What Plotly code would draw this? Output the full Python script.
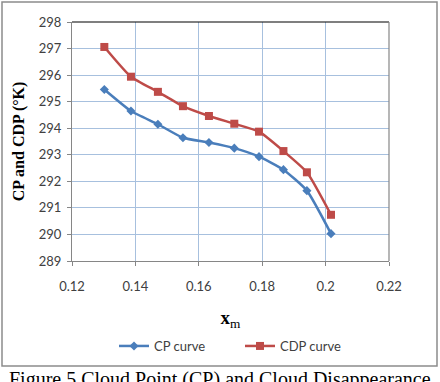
import plotly.graph_objects as go

x_m = [0.1302, 0.1386, 0.1471, 0.1550, 0.1632, 0.1712, 0.1790, 0.1867, 0.1941, 0.2017]
cp_curve = [295.46, 294.65, 294.15, 293.64, 293.46, 293.25, 292.93, 292.44, 291.65, 290.03]
cdp_curve = [297.06, 295.94, 295.37, 294.83, 294.46, 294.17, 293.87, 293.14, 292.34, 290.74]

x_ticks = [0.12, 0.14, 0.16, 0.18, 0.2, 0.22]
x_tick_text = ["0.12", "0.14", "0.16", "0.18", "0.2", "0.22"]
y_ticks = list(range(289, 299))

W, H = 440, 382
L, R, T, B = 72, 51, 22, 121
pw, ph = W - L - R, H - T - B

def px(xp):
    return (xp - L) / pw

def py(yp):
    return (H - B - yp) / ph

fig = go.Figure()
fig.add_trace(go.Scatter(
    x=x_m, y=cp_curve, name="CP curve", mode="lines+markers",
    line=dict(color="#4A7EBB", width=2.5, shape="spline", smoothing=0.5),
    marker=dict(symbol="diamond", size=7, color="#4A7EBB"),
))
fig.add_trace(go.Scatter(
    x=x_m, y=cdp_curve, name="CDP curve", mode="lines+markers",
    line=dict(color="#BE4B48", width=2.5, shape="spline", smoothing=0.5),
    marker=dict(symbol="square", size=8, color="#BE4B48"),
))

grid = "#A7C0DE"
tickfont = dict(family="Lato", size=13, color="#404040")
fig.update_xaxes(
    range=[0.12, 0.22], tickvals=x_ticks, ticktext=x_tick_text,
    showgrid=True, gridcolor=grid, gridwidth=1,
    showline=True, linecolor="#868686", linewidth=1,
    ticks="outside", ticklen=4, tickcolor="#868686", ticklabelstandoff=9,
    tickfont=tickfont, zeroline=False,
    title=dict(text="<b>x</b><sub>m</sub>", font=dict(family="Liberation Serif", size=19, color="black"), standoff=18),
)
fig.update_yaxes(
    range=[289, 298], tickvals=y_ticks,
    showgrid=True, gridcolor=grid, gridwidth=1,
    showline=True, linecolor="#868686", linewidth=1,
    ticks="outside", ticklen=4, tickcolor="#868686", ticklabelstandoff=3,
    tickfont=tickfont, zeroline=False,
    title=dict(text="<b>CP and CDP (°K)</b>", font=dict(family="Liberation Serif", size=16, color="black"), standoff=10),
)

shapes = [
    dict(type="line", xref="paper", yref="paper", x0=0, x1=1, y0=1, y1=1, line=dict(color="black", width=1.2)),
    dict(type="line", xref="paper", yref="paper", x0=1, x1=1, y0=0, y1=1, line=dict(color="#868686", width=1.2)),
    dict(type="rect", xref="paper", yref="paper", x0=px(2), x1=px(437), y0=py(366), y1=py(2),
         line=dict(color="#8C8C8C", width=1.5), layer="below"),
]

fig.update_layout(
    width=W, height=H, margin=dict(l=L, r=R, t=T, b=B),
    paper_bgcolor="white", plot_bgcolor="white",
    shapes=shapes,
    showlegend=True,
    legend=dict(orientation="h", x=px(114), xanchor="left", y=py(346), yanchor="middle",
                font=dict(family="Lato", size=13, color="#404040"), itemwidth=30,
                tracegroupgap=0, entrywidth=81),
    annotations=[dict(
        text="Figure 5 Cloud Point (CP) and Cloud Disappearance",
        xref="paper", yref="paper", x=px(220), y=py(366), xanchor="center", yanchor="top",
        showarrow=False, font=dict(family="Liberation Serif", size=20, color="black"),
    )],
)

fig.write_html("out.html")
